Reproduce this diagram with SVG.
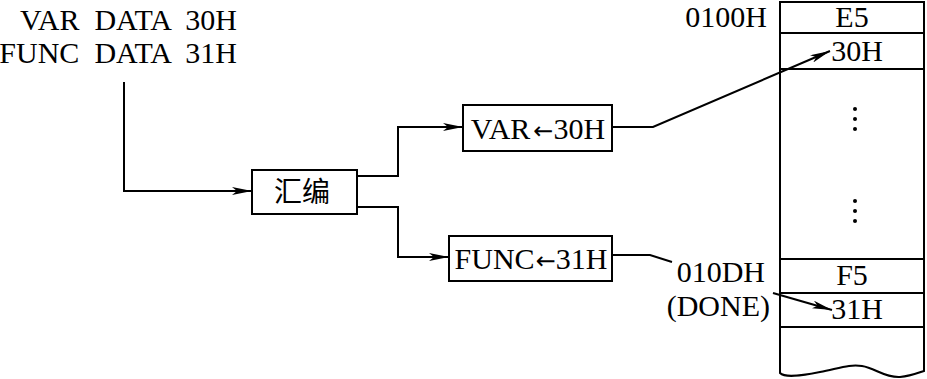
<svg xmlns="http://www.w3.org/2000/svg" width="927" height="379" viewBox="0 0 927 379">
<defs>
<marker id="arr" viewBox="0 0 20 8" refX="20" refY="4" markerWidth="20" markerHeight="8" markerUnits="userSpaceOnUse" orient="auto">
<path d="M0,0 L20,4 L0,8 L5,4 Z" fill="#000"/>
</marker>
</defs>
<style>
text{font-family:"Liberation Serif","Noto Sans CJK SC",serif;font-size:30px;fill:#000}
.cjk{font-family:"Noto Sans CJK SC",sans-serif;font-size:28px}
.ar{font-family:"DejaVu Sans",sans-serif;font-size:24px}
.box{fill:#fff;stroke:#000;stroke-width:2}
.ln{fill:none;stroke:#000;stroke-width:2}
.mem{fill:none;stroke:#000;stroke-width:2}
</style>
<g id="source">
<text x="237" y="30" text-anchor="end" xml:space="preserve">VAR  DATA  30H</text>
<text x="237" y="63" text-anchor="end" xml:space="preserve">FUNC  DATA  31H</text>
</g>
<g id="connectors">
<polyline class="ln" points="124,82 124,191 252,191" marker-end="url(#arr)"/>
<polyline class="ln" points="357,176 398,176 398,127 463,127" marker-end="url(#arr)"/>
<polyline class="ln" points="357,207 398,207 398,257 449,257" marker-end="url(#arr)"/>
<polyline class="ln" points="612,127 653,127 830,51" marker-end="url(#arr)"/>
<polyline class="ln" points="612,255 650,255 672,262"/>
<line class="ln" x1="773" y1="293" x2="832" y2="310" marker-end="url(#arr)"/>
</g>
<g id="asm">
<rect class="box" x="252" y="170" width="105" height="44"/>
<text class="cjk" x="302" y="202" text-anchor="middle">汇编</text>
</g>
<g id="var">
<rect class="box" x="463" y="105" width="149" height="46"/>
<text x="538" y="139" text-anchor="middle">VAR<tspan class="ar" dx="3">←</tspan>30H</text>
</g>
<g id="func">
<rect class="box" x="449" y="236" width="163" height="45"/>
<text x="531" y="269" text-anchor="middle">FUNC<tspan class="ar" dx="1">←</tspan>31H</text>
</g>
<g id="memory">
<path class="mem" d="M780,373 L780,2 L924,2 L924,371 C920,372 912,376 900,377 C885,378 875,368 862,366 C850,364 840,368 820,372 C800,376 785,378 780,373 Z"/>
<line class="mem" x1="780" y1="33" x2="924" y2="33"/>
<line class="mem" x1="780" y1="69" x2="924" y2="69"/>
<line class="mem" x1="780" y1="259" x2="924" y2="259"/>
<line class="mem" x1="780" y1="293" x2="924" y2="293"/>
<line class="mem" x1="780" y1="327" x2="924" y2="327"/>
<text x="852" y="27" text-anchor="middle">E5</text>
<text x="857" y="61" text-anchor="middle">30H</text>
<text x="852" y="285" text-anchor="middle">F5</text>
<text x="857" y="319" text-anchor="middle">31H</text>
<g fill="#000">
<circle cx="855" cy="109" r="2"/><circle cx="855" cy="119" r="2"/><circle cx="855" cy="129" r="2"/>
<circle cx="855" cy="201" r="2"/><circle cx="855" cy="211" r="2"/><circle cx="855" cy="221" r="2"/>
</g>
</g>
<g id="labels">
<text x="767" y="27" text-anchor="end">0100H</text>
<text x="765" y="282" text-anchor="end">010DH</text>
<text x="770" y="316" text-anchor="end">(DONE)</text>
</g>
</svg>
